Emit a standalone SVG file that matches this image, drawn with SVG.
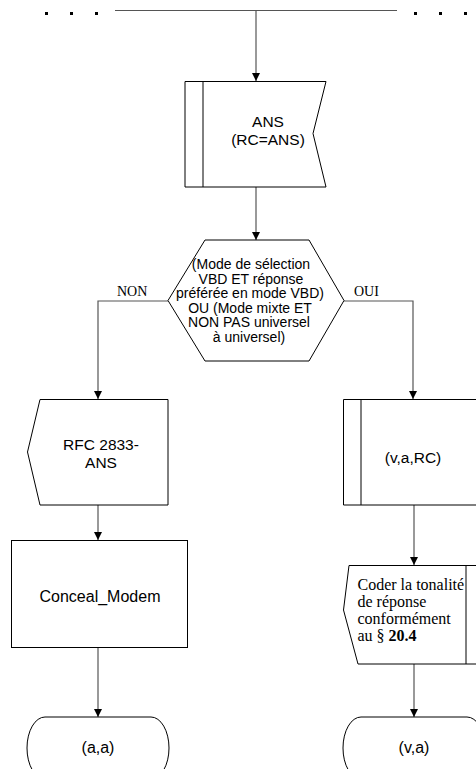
<svg xmlns="http://www.w3.org/2000/svg" width="476" height="769" viewBox="0 0 476 769">
  <style>
    .shape { fill: #fff; stroke: #000; stroke-width: 1; }
    .line { fill: none; stroke: #555; stroke-width: 1.2; }
    .sans { font-family: "Liberation Sans", Arial, sans-serif; font-size: 15.5px; fill: #000; text-anchor: middle; }
    .hex { font-size: 14px; }
    .big { font-size: 16px; }
    .serif { font-family: "Liberation Serif", "Times New Roman", serif; font-size: 14px; fill: #000; }
    .note { font-size: 16px; }
    .dot { fill: #000; }
  </style>
  <defs>
    <marker id="arrow" viewBox="0 0 10 10" refX="10" refY="5" markerWidth="8" markerHeight="8" markerUnits="userSpaceOnUse" orient="auto">
      <path d="M0,0 L10,5 L0,10 Z" fill="#000"/>
    </marker>
  </defs>

  <!-- continuation dots -->
  <g id="dots">
    <rect class="dot" x="45" y="12" width="3" height="3"/>
    <rect class="dot" x="70" y="12" width="3" height="3"/>
    <rect class="dot" x="95" y="12" width="3" height="3"/>
    <rect class="dot" x="414" y="12" width="3" height="3"/>
    <rect class="dot" x="439" y="12" width="3" height="3"/>
    <rect class="dot" x="464" y="12" width="3" height="3"/>
  </g>

  <!-- connectors -->
  <g id="connectors">
    <path class="line" d="M115,10.5 H397"/>
    <path class="line" d="M256,10.5 V81" marker-end="url(#arrow)"/>
    <path class="line" d="M256,187 V240" marker-end="url(#arrow)"/>
    <path class="line" d="M168,301 H98 V399" marker-end="url(#arrow)"/>
    <path class="line" d="M344,301 H413 V399" marker-end="url(#arrow)"/>
    <path class="line" d="M98,505 V540" marker-end="url(#arrow)"/>
    <path class="line" d="M98,647 V717" marker-end="url(#arrow)"/>
    <path class="line" d="M414,505 V565" marker-end="url(#arrow)"/>
    <path class="line" d="M414,664 V717" marker-end="url(#arrow)"/>
    <text class="serif" x="117" y="296">NON</text>
    <text class="serif" x="354" y="296">OUI</text>
  </g>

  <!-- input signal ANS -->
  <g id="ans">
    <path class="shape" d="M185,81.5 H326 L313,133.5 L326,187 H185 Z"/>
    <path class="shape" d="M203,81.5 V187"/>
    <text class="sans" x="268" y="127">ANS</text>
    <text class="sans" x="268" y="145">(RC=ANS)</text>
  </g>

  <!-- decision -->
  <g id="decision">
    <path class="shape" d="M205,240 H309 L344,300.5 L309,361 H205 L168,300.5 Z"/>
    <text class="sans hex" x="251" y="269">(Mode de sélection</text>
    <text class="sans hex" x="251" y="283.5">VBD ET réponse</text>
    <text class="sans hex" x="250" y="298">préférée en mode VBD)</text>
    <text class="sans hex" x="250" y="312.5">OU (Mode mixte ET</text>
    <text class="sans hex" x="249" y="327">NON PAS universel</text>
    <text class="sans hex" x="249" y="341.5">à universel)</text>
  </g>

  <!-- output signal RFC 2833-ANS -->
  <g id="rfc">
    <path class="shape" d="M40,399.5 H168 V505 H40 L27.5,452 Z"/>
    <text class="sans" x="101" y="450">RFC 2833-</text>
    <text class="sans" x="101" y="468">ANS</text>
  </g>

  <!-- procedure call (v,a,RC) -->
  <g id="procedure">
    <path class="shape" d="M343.5,399.5 H482 V505 H343.5 Z"/>
    <path class="shape" d="M361,399.5 V505"/>
    <text class="sans" x="413" y="463">(v,a,RC)</text>
  </g>

  <!-- task Conceal_Modem -->
  <g id="conceal">
    <rect class="shape" x="11.5" y="540.5" width="176" height="107"/>
    <text class="sans big" x="100" y="602">Conceal_Modem</text>
  </g>

  <!-- output: encode answer tone -->
  <g id="coder">
    <path class="shape" d="M349,565.5 H482 V664 H358 L343.5,610 Z"/>
    <path class="shape" d="M466,565.5 V664"/>
    <text class="serif note" x="357.5" y="590">Coder la tonalité</text>
    <text class="serif note" x="357.5" y="607">de réponse</text>
    <text class="serif note" x="357.5" y="624">conformément</text>
    <text class="serif note" x="357.5" y="641">au § <tspan font-weight="bold">20.4</tspan></text>
  </g>

  <!-- next states -->
  <g id="state-aa">
    <path class="shape" d="M45,717 H151 A18,31 0 0 1 151,779 H45 A18,31 0 0 1 45,717 Z"/>
    <text class="sans big" x="98" y="753">(a,a)</text>
  </g>
  <g id="state-va">
    <path class="shape" d="M361,717 H467 A18,31 0 0 1 467,779 H361 A18,31 0 0 1 361,717 Z"/>
    <text class="sans big" x="414" y="753">(v,a)</text>
  </g>
</svg>
